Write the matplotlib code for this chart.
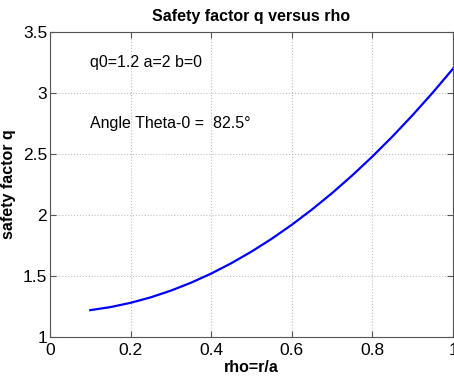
import matplotlib
matplotlib.use("Agg")
import matplotlib.pyplot as plt

# values
rho = [0.10, 0.15, 0.20, 0.25, 0.30, 0.35, 0.40, 0.45, 0.50, 0.55,
       0.60, 0.65, 0.70, 0.75, 0.80, 0.85, 0.90, 0.95, 1.00]
q = [1.220, 1.245, 1.280, 1.325, 1.380, 1.445, 1.520, 1.605, 1.700, 1.805,
     1.920, 2.045, 2.180, 2.325, 2.480, 2.645, 2.820, 3.005, 3.200]

xticks = [0, 0.2, 0.4, 0.6, 0.8, 1]
xticklabels = ["0", "0.2", "0.4", "0.6", "0.8", "1"]
yticks = [1, 1.5, 2, 2.5, 3, 3.5]
yticklabels = ["1", "1.5", "2", "2.5", "3", "3.5"]

plt.rcParams["font.family"] = ["Liberation Sans", "DejaVu Sans"]

fig = plt.figure(figsize=(4.54, 3.81), dpi=100)
ax = fig.add_axes([0.110, 0.1155, 0.888, 0.8005])

ax.plot(rho, q, color="blue", linewidth=1.6)

ax.set_xlim(0, 1)
ax.set_ylim(1, 3.5)
ax.set_xticks(xticks)
ax.set_xticklabels(xticklabels)
ax.set_yticks(yticks)
ax.set_yticklabels(yticklabels)
ax.tick_params(direction="in", top=True, right=True, labelsize=12.5, length=4,
               color="#555555")
ax.tick_params(axis="y", pad=2)
ax.tick_params(axis="x", pad=4)
ax.grid(True, linestyle=":", color="#c0c0c0", linewidth=0.8)
for s in ax.spines.values():
    s.set_color("#555555")

ax.text(0.1, 3.25, "q0=1.2 a=2 b=0", fontsize=11.5, va="center")
ax.text(0.1, 2.75, "Angle Theta-0 =  82.5\u00b0", fontsize=11.5, va="center")

ax.set_title("Safety factor q versus rho", fontsize=11.5, fontweight="bold", pad=8)
ax.set_xlabel("rho=r/a", fontsize=11.5, fontweight="bold", labelpad=2)
ax.set_ylabel("safety factor q", fontsize=11.5, fontweight="bold")
ax.yaxis.set_label_coords(-0.085, 0.5)

fig.savefig("out.png", dpi=100)
